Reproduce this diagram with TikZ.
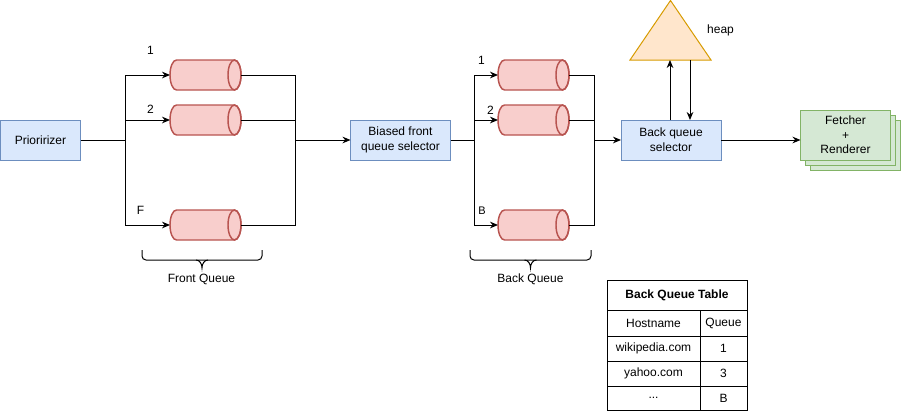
\documentclass[tikz,border=0pt]{standalone}
\usepackage{fontspec}
\setmainfont{Liberation Sans}
\usetikzlibrary{arrows.meta,calc}
\definecolor{bluefill}{HTML}{DAE8FC}
\definecolor{bluedraw}{HTML}{6C8EBF}
\definecolor{redfill}{HTML}{F8CECC}
\definecolor{reddraw}{HTML}{B85450}
\definecolor{orfill}{HTML}{FFE6CC}
\definecolor{ordraw}{HTML}{D79B00}
\definecolor{grfill}{HTML}{D5E8D4}
\definecolor{grdraw}{HTML}{82B366}
\newcommand\drawcyl[1]{%
 \draw[cylstyle] ([xshift=-4.875pt]#1.north east) -- ([xshift=4.875pt]#1.north west)
   arc[start angle=90,end angle=270,x radius=4.875pt,y radius=11.25pt]
   -- ([xshift=-4.875pt]#1.south east)
   arc[start angle=-90,end angle=90,x radius=4.875pt,y radius=11.25pt] -- cycle;
 \draw[cylstyle,fill=none] ([xshift=-4.875pt]#1.east) ellipse[x radius=4.875pt,y radius=11.25pt];}
\begin{document}
\begin{tikzpicture}[x=0.75pt,y=-0.75pt,
  every node/.style={font=\fontsize{9}{11}\selectfont,align=center,inner sep=0pt,outer sep=0pt},
  bluebox/.style={draw=bluedraw,fill=bluefill,line width=0.75pt,minimum height=30pt},
  qbox/.style={minimum width=53.25pt,minimum height=22.5pt},
  cylstyle/.style={draw=reddraw,fill=redfill,line width=1.1pt},
  conn/.style={line width=0.75pt},
  arr/.style={conn,-{Stealth[length=6pt,width=5pt]}},
  greenbox/.style={draw=grdraw,fill=grfill,line width=0.75pt,minimum width=67.5pt,minimum height=37.5pt},
  tline/.style={line width=0.75pt},
  bracestyle/.style={line width=0.75pt}]
\useasboundingbox (0,0) rectangle (901,411);

% main boxes
\node[bluebox,minimum width=60pt] (P) at (40.5,140) {Prioririzer};
\node[bluebox,minimum width=75pt] (BF) at (400.5,140) {Biased front\\queue selector};
\node[bluebox,minimum width=75pt] (S) at (671,140) {Back queue\\selector};

% front queues
\node[qbox] (q1) at (205.5,75) {};
\node[qbox] (q2) at (205.5,120) {};
\node[qbox] (q3) at (205.5,225) {};
\drawcyl{q1}\drawcyl{q2}\drawcyl{q3}
% back queues
\node[qbox] (b1) at (533.5,75) {};
\node[qbox] (b2) at (533.5,120) {};
\node[qbox] (b3) at (533.5,225) {};
\drawcyl{b1}\drawcyl{b2}\drawcyl{b3}

% fork coordinates
\coordinate (fl) at (125,140);
\coordinate (fr) at (295,140);
\coordinate (bl) at (474,140);
\coordinate (br) at (594,140);

\draw[conn] (P.east) -- (fl);
\draw[arr] (fl) |- (q1.west);
\draw[arr] (fl) |- (q2.west);
\draw[arr] (fl) |- (q3.west);
\draw[conn] (q1.east) -| (fr);
\draw[conn] (q2.east) -| (fr);
\draw[conn] (q3.east) -| (fr);
\draw[arr] (fr) -- (BF.west);

\draw[conn] (BF.east) -- (bl);
\draw[arr] (bl) |- (b1.west);
\draw[arr] (bl) |- (b2.west);
\draw[arr] (bl) |- (b3.west);
\draw[conn] (b1.east) -| (br);
\draw[conn] (b2.east) -| (br);
\draw[conn] (b3.east) -| (br);
\draw[arr] (br) -- (S.west);

% queue labels
\node (l1) at (150.5,50) {1};
\node (l2) at (150.5,109) {2};
\node (lF) at (140.5,210) {F};
\node (m1) at (481.5,60) {1};
\node (m2) at (490.5,110) {2};
\node[font=\fontsize{8.25}{10}\selectfont] (mB) at (482,211) {B};

% braces
\draw[bracestyle,rounded corners=3pt] (142,250) -- (142,260) -- (202,260) -- (262,260) -- (262,250);
\draw[bracestyle] (196,260) to[out=0,in=90] (202,268) to[out=90,in=180] (208,260);
\node (fq) at (201.5,279.5) {Front Queue};
\draw[bracestyle,rounded corners=3pt] (470,250) -- (470,260) -- (530,260) -- (591,260) -- (591,250);
\draw[bracestyle] (524.5,260) to[out=0,in=90] (530.5,268) to[out=90,in=180] (536.5,260);
\node (bq) at (530.5,279.5) {Back Queue};

% heap
\coordinate (hA) at (670.5,0.5);
\coordinate (hL) at (630,60);
\coordinate (hR) at (711,60);
\draw[draw=ordraw,fill=orfill,line width=0.75pt] (hA) -- (hR) -- (hL) -- cycle;
\node (heap) at (720.5,30) {heap};
\coordinate (hu) at (670,60);
\coordinate (hd) at (690,60);
\draw[arr] (hu |- S.north) -- (hu);
\draw[arr] (hd) -- (hd |- S.north);

% fetcher stack
\node[greenbox] (F3) at (855.5,145) {};
\node[greenbox] (F2) at (850.5,140) {};
\node[greenbox] (F) at (845.5,135) {Fetcher\\+\\Renderer};
\draw[arr] (S.east) -- (S.east -| F.west);

% table
\node[draw,tline,minimum width=105pt,minimum height=97.5pt] (T) at (677,345) {};
\node[font=\bfseries\fontsize{9}{11}\selectfont] (th) at (677,295.5) {Back Queue Table};
\coordinate (r1) at (607,310);
\coordinate (r2) at (607,336);
\coordinate (r3) at (607,361);
\coordinate (r4) at (607,386);
\coordinate (cv) at (700,310);
\draw[tline] (r1) -- (r1 -| T.east);
\draw[tline] (r2) -- (r2 -| T.east);
\draw[tline] (r3) -- (r3 -| T.east);
\draw[tline] (r4) -- (r4 -| T.east);
\draw[tline] (cv) -- (cv |- T.south);
\node (c11) at (653.5,323) {Hostname};
\node (c12) at (723.5,323) {Queue};
\node (c21) at (653.5,348.5) {wikipedia.com};
\node (c22) at (723.5,348.5) {1};
\node (c31) at (653.5,373.5) {yahoo.com};
\node (c32) at (723.5,373.5) {3};
\node (c41) at (653.5,398) {...};
\node (c42) at (723.5,398) {B};
\end{tikzpicture}
\end{document}
